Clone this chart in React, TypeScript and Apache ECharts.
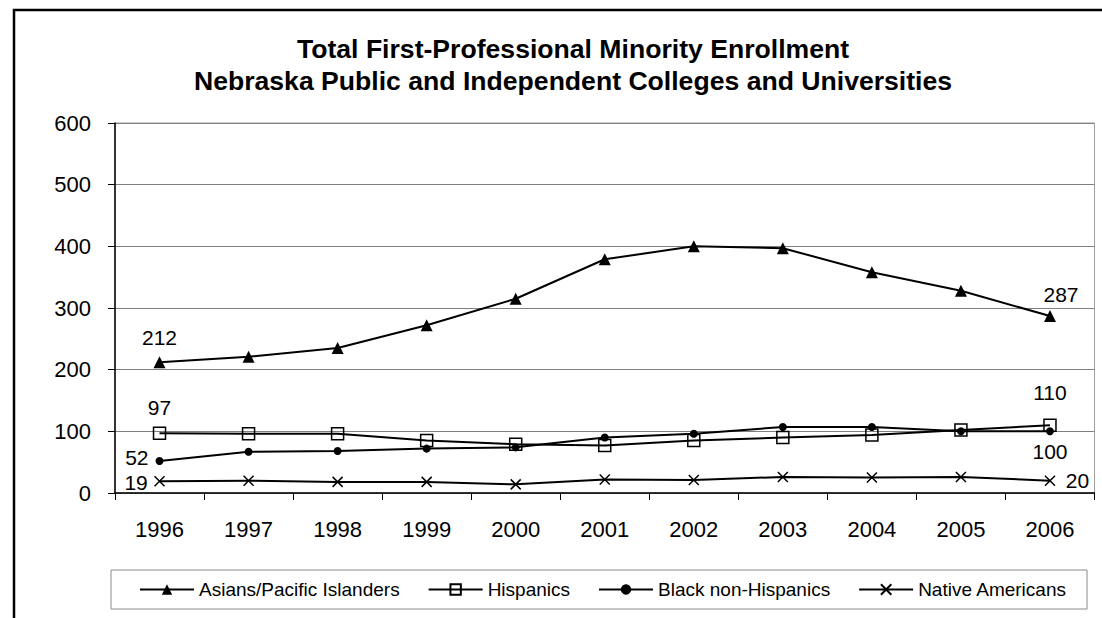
import React, { useEffect, useRef } from "react";
import * as echarts from "echarts";

const years = ["1996", "1997", "1998", "1999", "2000", "2001", "2002", "2003", "2004", "2005", "2006"];
const asians = [212, 221, 235, 272, 315, 379, 400, 397, 358, 328, 287];
const hispanics = [97, 96, 96, 85, 79, 77, 85, 90, 94, 102, 110];
const black = [52, 67, 68, 72, 74, 90, 96, 107, 107, 100, 100];
const native = [19, 20, 18, 18, 14, 22, 21, 26, 25, 26, 20];
const seriesNames = ["Asians/Pacific Islanders", "Hispanics", "Black non-Hispanics", "Native Americans"];
const titleLines = [
  "Total First-Professional Minority Enrollment",
  "Nebraska Public and Independent Colleges and Universities",
];

const FONT = "Arial, 'Liberation Sans', sans-serif";

function withEndLabels(values: number[], first: any, last: any) {
  return values.map((v, i) => {
    if (i === 0) return { value: v, label: { show: true, ...first } };
    if (i === values.length - 1) return { value: v, label: { show: true, ...last } };
    return v;
  });
}

export default function App() {
  const ref = useRef<HTMLDivElement>(null);
  useEffect(() => {
    if (!ref.current) return;
    const chart = echarts.init(ref.current, undefined, { renderer: "svg" });
    const labelBase = { color: "#000", fontSize: 21, lineHeight: 18, fontFamily: FONT };
    const common = {
      type: "line",
      lineStyle: { color: "#000", width: 2 },
      label: { show: false, ...labelBase },
      emphasis: { disabled: true },
      z: 3,
    };
    chart.setOption({
      animation: false,
      backgroundColor: "#fff",
      title: {
        text: titleLines.join("\n"),
        left: 573,
        top: 33,
        padding: 0,
        textAlign: "center",
        textStyle: { fontSize: 26.6, fontWeight: "bold", fontFamily: FONT, color: "#000", lineHeight: 32 },
      },
      graphic: [
        {
          type: "rect",
          shape: { x: 14, y: 10, width: 1200, height: 700 },
          style: { fill: "none", stroke: "#000", lineWidth: 2.5 },
          silent: true,
        },
      ],
      legend: {
        data: seriesNames,
        left: 111,
        top: 570,
        padding: [10, 20, 10, 28],
        itemGap: 28,
        itemWidth: 54,
        itemHeight: 13,
        borderColor: "#8c8c8c",
        borderWidth: 1,
        textStyle: { fontSize: 19, fontFamily: FONT, color: "#000" },
      },
      grid: {
        left: 115,
        right: 7.5,
        top: 123,
        bottom: 125,
        show: true,
        borderColor: "#a0a0a0",
        borderWidth: 1,
      },
      xAxis: {
        type: "category",
        data: years,
        boundaryGap: true,
        axisLine: { lineStyle: { color: "#000", width: 1.5 } },
        axisTick: { show: true, alignWithLabel: false, length: 7, lineStyle: { color: "#000" } },
        axisLabel: { fontSize: 22, fontFamily: FONT, color: "#000", margin: 25 },
        splitLine: { show: false },
      },
      yAxis: {
        type: "value",
        min: 0,
        max: 600,
        interval: 100,
        axisLine: { show: true, lineStyle: { color: "#000", width: 1.5 } },
        axisTick: { show: true, length: 7, lineStyle: { color: "#000" } },
        axisLabel: { fontSize: 22, fontFamily: FONT, color: "#000", margin: 24 },
        splitLine: { show: true, lineStyle: { color: "#808080", width: 1 } },
      },
      series: [
        {
          ...common,
          name: seriesNames[0],
          symbol: "triangle",
          symbolSize: 12,
          itemStyle: { color: "#000" },
          data: withEndLabels(asians, { position: "top", distance: 10 }, { position: "top", distance: 7, offset: [11, 0] }),
        },
        {
          ...common,
          name: seriesNames[1],
          symbol: "rect",
          symbolSize: 12,
          itemStyle: { color: "transparent", borderColor: "#000", borderWidth: 1.5 },
          data: withEndLabels(hispanics, { position: "top", distance: 10 }, { position: "top", distance: 17 }),
        },
        {
          ...common,
          name: seriesNames[2],
          symbol: "circle",
          symbolSize: 8,
          itemStyle: { color: "#000" },
          data: withEndLabels(black, { position: "left", distance: 7, offset: [0, -3] }, { position: "bottom", distance: 7 }),
        },
        {
          ...common,
          name: seriesNames[3],
          symbol: "path://M0,0L10,10M10,0L0,10",
          symbolSize: 10,
          itemStyle: { color: "#000", borderColor: "#000", borderWidth: 1.5 },
          data: withEndLabels(native, { position: "left", distance: 6, offset: [0, 1] }, { position: "right", distance: 10 }),
        },
      ],
    });
    return () => chart.dispose();
  }, []);
  return (
    <div
      ref={ref}
      style={{ position: "absolute", left: 0, top: 0, width: 1102, height: 618, background: "#fff" }}
    />
  );
}
